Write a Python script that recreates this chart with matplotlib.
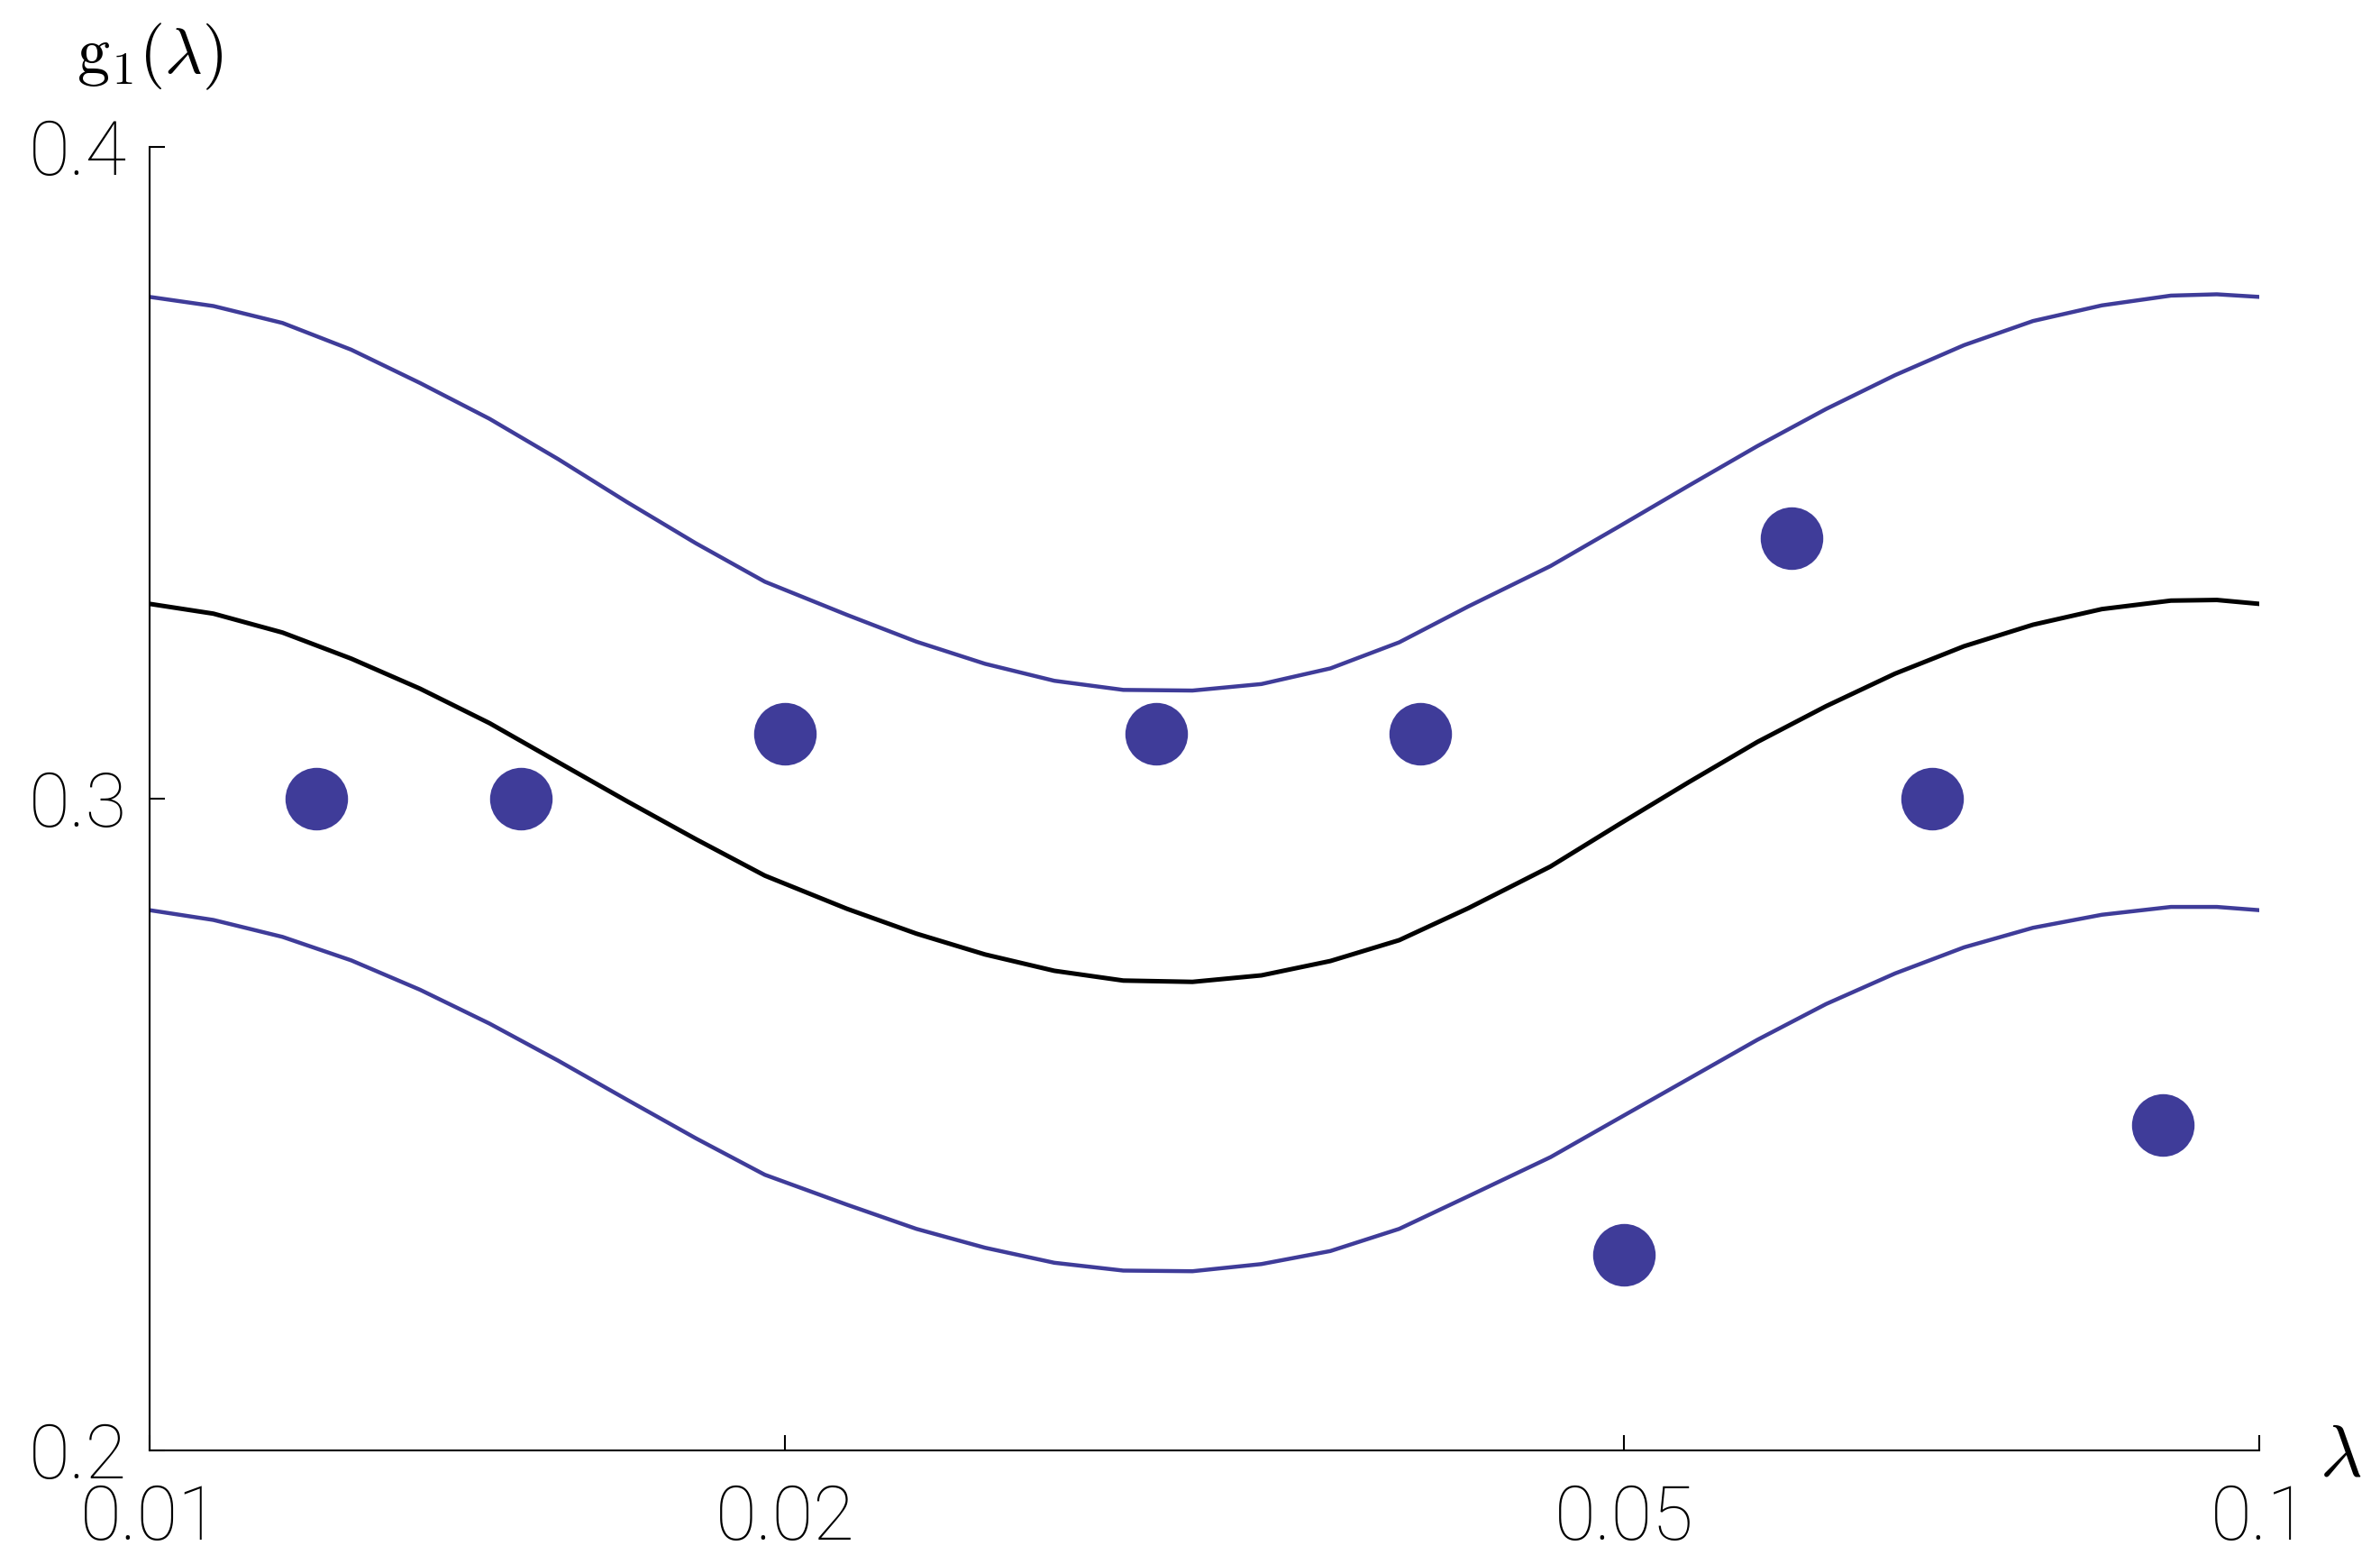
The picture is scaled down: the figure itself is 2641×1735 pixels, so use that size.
import matplotlib
matplotlib.use("Agg")
from matplotlib import pyplot as plt
from matplotlib.ticker import FixedLocator, FixedFormatter, NullLocator

# measured points
lam_pts = [0.012, 0.015, 0.02, 0.03, 0.04, 0.05, 0.06, 0.07, 0.09]
g1_pts = [0.30, 0.30, 0.31, 0.31, 0.31, 0.23, 0.34, 0.30, 0.25]

# the three curves at the same lambda values
curve_x = [0.0100, 0.01072, 0.01156, 0.01246, 0.01343, 0.01449, 0.01562, 0.01684, 0.01815, 0.01957,
           0.02141, 0.02309, 0.02489, 0.02684, 0.02894, 0.03121, 0.03365, 0.03628, 0.03911, 0.04217,
           0.04613, 0.04973, 0.05362, 0.05781, 0.06232, 0.06720, 0.07245, 0.07811, 0.08421, 0.09080,
           0.09547, 0.1000]
upper_y = [0.3770, 0.3756, 0.3730, 0.3689, 0.3638, 0.3583, 0.3521, 0.3455, 0.3392, 0.3333,
           0.3282, 0.3241, 0.3207, 0.3181, 0.3167, 0.3166, 0.3176, 0.3200, 0.3240, 0.3295,
           0.3357, 0.3418, 0.3480, 0.3541, 0.3598, 0.3650, 0.3696, 0.3733, 0.3757, 0.3772,
           0.3774, 0.3770]
center_y = [0.3299, 0.3284, 0.3255, 0.3215, 0.3169, 0.3116, 0.3056, 0.2996, 0.2938, 0.2882,
            0.2831, 0.2793, 0.2761, 0.2736, 0.2721, 0.2719, 0.2729, 0.2751, 0.2783, 0.2832,
            0.2896, 0.2961, 0.3025, 0.3087, 0.3142, 0.3192, 0.3234, 0.3267, 0.3291, 0.3304,
            0.3305, 0.3299]
lower_y = [0.2829, 0.2814, 0.2788, 0.2752, 0.2707, 0.2655, 0.2598, 0.2538, 0.2479, 0.2423,
           0.2377, 0.2340, 0.2311, 0.2288, 0.2276, 0.2275, 0.2286, 0.2306, 0.2340, 0.2390,
           0.2450, 0.2510, 0.2570, 0.2630, 0.2685, 0.2732, 0.2772, 0.2802, 0.2822, 0.2834,
           0.2834, 0.2829]

xticks = [0.01, 0.02, 0.05, 0.1]
xtick_labels = ["0.01", "0.02", "0.05", "0.1"]
yticks = [0.2, 0.3, 0.4]
ytick_labels = ["0.2", "0.3", "0.4"]

blue = "#3f3c99"
plt.rcParams["mathtext.fontset"] = "cm"

fig = plt.figure(figsize=(26.41, 17.35), dpi=100)
ax = fig.add_axes([0.0629, 0.0726, 0.8864, 0.8334])

ax.plot(curve_x, upper_y, color=blue, lw=3.2)
ax.plot(curve_x, lower_y, color=blue, lw=3.2)
ax.plot(curve_x, center_y, color="black", lw=3.6)
ax.plot(lam_pts, g1_pts, "o", color=blue, markersize=50, markeredgewidth=0, clip_on=False)

ax.set_xscale("log")
ax.set_xlim(0.01, 0.1)
ax.set_ylim(0.2, 0.4)

ax.xaxis.set_major_locator(FixedLocator(xticks))
ax.xaxis.set_major_formatter(FixedFormatter(xtick_labels))
ax.xaxis.set_minor_locator(NullLocator())
ax.yaxis.set_major_locator(FixedLocator(yticks))
ax.yaxis.set_major_formatter(FixedFormatter(ytick_labels))

for s in ["top", "right"]:
    ax.spines[s].set_visible(False)
for s in ["left", "bottom"]:
    ax.spines[s].set_linewidth(1.5)

ax.tick_params(direction="in", length=12, width=1.5, colors="black")
ax.tick_params(axis="x", pad=26)
ax.tick_params(axis="y", pad=18)
for lab in ax.get_xticklabels() + ax.get_yticklabels():
    lab.set_fontfamily("Roboto")
    lab.set_fontweight("light")
    lab.set_fontsize(60)
    lab.set_color("black")

fig.text(0.0629, 0.964, r"$\mathrm{g}_1(\lambda)$", fontsize=52, ha="center", va="center")
fig.text(0.9833, 0.0692, r"$\lambda$", fontsize=58, ha="center", va="center")

fig.savefig("out.png", dpi=100, facecolor="white")
